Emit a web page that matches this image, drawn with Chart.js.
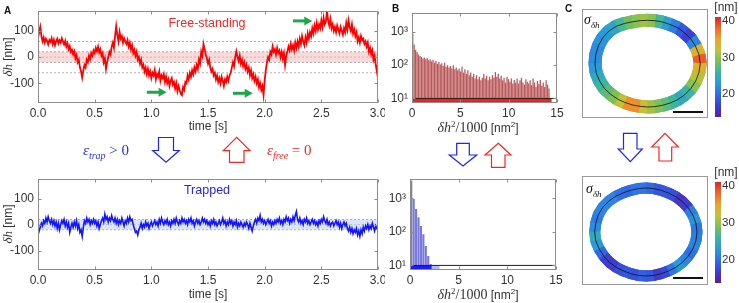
<!DOCTYPE html>
<html><head><meta charset="utf-8">
<script src="https://cdn.jsdelivr.net/npm/chart.js@4.4.1/dist/chart.umd.min.js"></script>
<style>
body{margin:0;background:#fff;}
#wrap{position:relative;width:739px;height:303px;overflow:hidden;font-family:'Liberation Sans',Arial,sans-serif;color:#333;}
canvas{position:absolute;}
.t{position:absolute;white-space:nowrap;line-height:1;}
.c{transform:translate(-50%,-50%);}
.m{font-family:'Liberation Serif','DejaVu Serif',serif;font-style:italic;}
.s{font-family:'Liberation Serif','DejaVu Serif',serif;}
</style></head><body><div id="wrap">
<canvas id="a1" width="385" height="135" style="left:0;top:0"></canvas>
<canvas id="a2" width="385" height="135" style="left:0;top:168px"></canvas>
<canvas id="b1" width="190" height="135" style="left:380px;top:0"></canvas>
<canvas id="b2" width="190" height="135" style="left:380px;top:168px"></canvas>
<canvas id="c1" width="126" height="109" style="left:582px;top:9px"></canvas>
<canvas id="c2" width="126" height="109" style="left:582px;top:176px"></canvas>
<canvas id="cb1" width="27" height="125" style="left:712px;top:0"></canvas>
<canvas id="cb2" width="27" height="125" style="left:712px;top:168px"></canvas>

<div class="t" style="left:4px;top:5px;font:bold 10px 'Liberation Sans';color:#111">A</div>
<div class="t" style="left:392px;top:3px;font:bold 10px 'Liberation Sans';color:#111">B</div>
<div class="t" style="left:565px;top:3px;font:bold 10px 'Liberation Sans';color:#111">C</div>

<div class="t c" style="left:207px;top:23px;font-size:12.5px;color:#ff2020">Free-standing</div>
<div class="t c" style="left:207px;top:189.5px;font-size:12.5px;color:#2222ff">Trapped</div>

<div class="t" style="left:7px;top:57px;font-size:12px;transform:translate(-50%,-50%) rotate(-90deg)"><span class="m" style="font-size:13px">δh</span> [nm]</div>
<div class="t" style="left:7px;top:224px;font-size:12px;transform:translate(-50%,-50%) rotate(-90deg)"><span class="m" style="font-size:13px">δh</span> [nm]</div>

<div class="t c" style="left:478px;top:127px;font-size:12px"><span class="m" style="font-size:14px">δh</span><sup class="s" style="font-size:9px">2</sup><span class="s" style="font-size:14px">/1000</span> [nm<sup style="font-size:8px">2</sup>]</div>
<div class="t c" style="left:478px;top:294px;font-size:12px"><span class="m" style="font-size:14px">δh</span><sup class="s" style="font-size:9px">2</sup><span class="s" style="font-size:14px">/1000</span> [nm<sup style="font-size:8px">2</sup>]</div>

<div class="t" style="left:83px;top:142px;color:#2a2aff;font-size:15px"><span class="m">ε</span><sub class="m" style="font-size:10px">trap</sub><span class="s"> &gt; 0</span></div>
<div class="t" style="left:267px;top:142px;color:#ff2424;font-size:15px"><span class="m">ε</span><sub class="m" style="font-size:10px">free</sub><span class="s"> = 0</span></div>

<div class="t" style="left:584px;top:12px;color:#111;font-size:14px"><span class="m">σ</span><sub class="m" style="font-size:9px">δh</sub></div>
<div class="t" style="left:586px;top:181px;color:#111;font-size:14px"><span class="m">σ</span><sub class="m" style="font-size:9px">δh</sub></div>
<div style="position:absolute;left:673px;top:111px;width:30px;height:2px;background:#111"></div>
<div style="position:absolute;left:673px;top:277px;width:30px;height:2px;background:#111"></div>

<div class="t c" style="left:726px;top:7px;font-size:12px">[nm]</div>
<div class="t c" style="left:726px;top:172px;font-size:12px">[nm]</div>

<svg width="739" height="303" style="position:absolute;left:0;top:0;pointer-events:none">
 <g fill="#fff" stroke-width="1.2">
  <polygon stroke="#2020ff" points="158.5,137.5 173.5,137.5 173.5,150.5 179.3,150.5 166,162.3 152.7,150.5 158.5,150.5"/>
  <polygon stroke="#ff2020" points="236.7,137.3 250,150.7 244,150.7 244,162.3 229.5,162.3 229.5,150.7 223.3,150.7"/>
  <polygon stroke="#2020ff" points="456.7,143.3 469.3,143.3 469.3,155 476.7,155 463,166 449.3,155 456.7,155"/>
  <polygon stroke="#ff2020" points="498.3,143.3 511,155 505,155 505,167.3 491.5,167.3 491.5,155 485,155"/>
  <polygon stroke="#2020ff" points="623.5,133.3 637,133.3 637,149 642.3,149 630.3,161.7 618.3,149 623.5,149"/>
  <polygon stroke="#ff2020" points="665,133.3 678.3,147 671.7,147 671.7,161 659,161 659,147 651.7,147"/>
 </g>
</svg>
</div>
<script>
// ---- panel A: height traces, sampled every DT seconds
const DT = 0.01;
const T_MAX = 3;
const freeTrace = [
 70,95,115,80,60,75,55,70,62,48,
 65,58,72,50,66,45,60,70,52,64,
 55,72,60,48,62,40,52,30,42,20,
 28,10,22,-5,8,-20,-10,-40,-55,-78,
 -50,-30,-40,-10,-20,5,-8,15,5,25,
 15,35,22,40,18,30,5,15,-20,-5,
 -45,-20,0,20,10,40,55,35,80,118,
 85,60,95,70,80,55,72,60,50,65,
 40,55,30,45,15,28,5,20,-10,0,
 -25,-10,-40,-30,-55,-40,-65,-45,-70,-55,
 -80,-60,-70,-50,-85,-65,-75,-55,-90,-70,
 -80,-65,-95,-75,-100,-85,-110,-90,-80,-105,
 -95,-120,-100,-130,-110,-125,-140,-145,-115,-125,
 -95,-100,-70,-85,-60,-75,-50,-65,-40,-55,
 -30,-45,-10,-25,20,5,50,30,10,-5,
 -25,-10,-40,-55,-45,-70,-60,-85,-70,-95,
 -80,-100,-75,-90,-110,-85,-95,-75,-90,-70,
 -60,-40,-20,-35,0,22,0,-15,5,-25,
 -10,-35,-20,-45,-30,-55,-40,-70,-50,-80,
 -65,-90,-75,-100,-85,-115,-100,-125,-110,-145,
 -90,-50,-20,0,-10,20,10,40,20,30,
 10,35,15,25,0,20,-5,15,-30,5,
 20,40,25,50,30,45,25,55,35,60,
 40,70,50,80,60,45,75,55,90,70,
 95,80,110,90,120,100,130,105,125,110,
 140,115,150,125,135,175,140,120,145,110,
 125,100,115,95,120,105,90,115,100,85,
 110,95,130,105,140,115,100,125,90,105,
 80,95,60,75,55,80,65,70,50,60,
 40,55,20,35,10,25,-10,5,-30,-55,
 -20];
const trapTrace = [
 -40,-25,-10,5,-5,15,5,25,10,30,
 15,5,20,0,15,-5,10,-15,5,-20,
 0,15,5,20,-5,10,-10,5,-30,-10,
 5,-10,10,-5,15,-15,0,-30,-20,-45,
 -10,15,5,25,10,20,0,15,5,20,
 5,15,-5,10,-15,0,15,25,10,40,
 20,30,10,25,15,35,20,10,25,5,
 20,0,15,5,25,10,-5,15,5,25,
 10,30,15,20,0,-15,-30,-25,-40,-20,
 -10,5,-15,0,-10,10,-5,5,-15,0,
 10,-5,5,15,0,10,-5,20,5,25,
 10,0,15,5,20,0,10,-5,15,5,
 20,5,25,10,0,15,5,25,10,20,
 5,15,0,20,10,25,5,15,-5,10,
 20,5,15,0,10,25,10,20,5,15,
 0,10,-5,15,5,20,0,10,-5,5,
 15,0,10,25,5,15,-5,10,0,20,
 5,15,-5,10,0,15,-10,5,-5,10,
 0,-10,5,-5,10,0,-15,5,-10,-25,
 -5,10,20,5,25,15,35,10,20,5,
 15,0,10,20,5,15,-5,10,0,15,
 5,20,10,25,5,15,0,20,10,30,
 15,25,5,20,10,30,15,35,50,20,
 10,25,5,15,0,20,10,25,5,15,
 0,10,20,5,15,0,10,-5,15,5,
 20,10,30,15,5,20,0,10,-5,5,
 10,-5,5,15,0,10,-10,5,-15,0,
 10,-5,5,-15,-25,-10,-30,-15,-35,-20,
 -30,-15,-40,-25,-45,-20,-35,-10,-25,-5,
 -15,0,-20,-5,-15,5,-10,-25,-5,-15,
 -10];
const TRAP_SIGMA = 20;
const FREE_SIGMA = 60;
const timeTicks = [0, 0.5, 1, 1.5, 2, 2.5, 3];
// green arrows (time start, time end, height)
const arrowStart = [0.96, 1.72, 2.25];
const arrowEnd = [1.135, 1.895, 2.42];
const arrowLevel = [-134, -138, 138];

// ---- panel B: histograms of dh^2/1000
const HIST_TOP_BIN = 0.15;
const histTop = [
 900,420,290,250,210,190,175,160,170,150,
 165,140,150,130,145,120,135,110,125,105,
 115,95,120,90,100,85,95,80,100,75,
 85,70,80,65,90,60,75,55,70,50,
 60,45,55,40,50,38,45,35,42,55,
 40,48,35,45,38,50,42,62,45,55,
 40,48,35,42,30,45,38,32,40,28,
 36,30,40,28,35,42,30,26,38,32,
 28,35,25,40,30,22,33,27,36,24,
 30,22,35,26,20];
const rugTopEnd = 14.4;
const HIST_BOTTOM_BIN = 0.25;
const histBottom = [3400, 950, 480, 270, 150, 85, 38, 19, 11];
const rugBottomEnd = 3.0;
const logTicks = [10, 100, 1000];
const RUG_LEVEL = 10;

// ---- panel C: contour sigma maps, every 10 degrees
const ringAngles = [0,10,20,30,40,50,60,70,80,90,100,110,120,130,140,150,160,170,180,190,200,210,220,230,240,250,260,270,280,290,300,310,320,330,340,350];
const ringTopRadius = [8.8,8.7,8.5,8.3,8.0,7.8,7.5,7.35,7.25,7.2,7.25,7.4,7.7,8.1,8.4,8.6,8.7,8.75,8.75,8.7,8.5,8.3,8.0,7.75,7.5,7.35,7.25,7.25,7.3,7.4,7.6,7.85,8.1,8.35,8.55,8.7];
const ringTopSigma = [36,41,26,17,17,20,22,25,28,31,30,29,28,25,23,23,22,22,22,24,25,27,28,30,34,38,34,31,30,28,27,25,24,28,31,32];
const ringBottomRadius = [8.5,8.45,8.3,8.1,7.9,7.7,7.5,7.4,7.35,7.33,7.35,7.4,7.55,7.8,8.05,8.3,8.45,8.5,8.55,8.5,8.3,8.1,7.9,7.7,7.5,7.4,7.35,7.33,7.35,7.4,7.5,7.7,7.9,8.1,8.3,8.45];
const ringBottomSigma = [20,21,24,18,15,17,19,18,19,20,21,20,19,21,22,21,22,20,24,25,21,18,16,17,19,18,18,20,17,16,19,22,24,19,21,22];
const CB_MIN = 13.8, CB_MAX = 41;
const cmapStops = [[13.8,'#5b1e9c'],[17,'#3b3fd6'],[20,'#2f6fe6'],[23,'#2a9bd8'],[26,'#3ab5a0'],[29,'#7cc056'],[32,'#c2c236'],[35,'#e9a52e'],[38,'#f0672c'],[41,'#d62628']];

Chart.defaults.font.family = "'Liberation Sans', Arial, sans-serif";
Chart.defaults.font.size = 12;
Chart.defaults.color = '#333';

function hexRgb(h) { return [1, 3, 5].map(i => parseInt(h.substr(i, 2), 16)); }
function sigmaColor(v) {
  v = Math.max(CB_MIN, Math.min(CB_MAX, v));
  for (let i = 1; i < cmapStops.length; i++) {
    if (v <= cmapStops[i][0]) {
      const [v0, c0] = cmapStops[i - 1], [v1, c1] = cmapStops[i];
      const f = (v - v0) / (v1 - v0), a = hexRgb(c0), b = hexRgb(c1);
      return 'rgb(' + a.map((x, k) => Math.round(x + (b[k] - x) * f)).join(',') + ')';
    }
  }
  return cmapStops[cmapStops.length - 1][1];
}

// box round the plot area with small inner ticks
const framePlugin = {
  id: 'frame',
  afterDatasetsDraw(chart, args, opts) {
    if (!opts || !opts.color) return;
    const {ctx, chartArea: a} = chart;
    ctx.save();
    ctx.strokeStyle = opts.color;
    ctx.lineWidth = 1;
    const l = Math.round(a.left) + 0.5, t = Math.round(a.top) + 0.5, r = Math.round(a.right) - 0.5, b = Math.round(a.bottom) - 0.5;
    ctx.strokeRect(l, t, r - l, b - t);
    const len = opts.tick || 0;
    if (len) {
      ctx.beginPath();
      const xs = chart.scales.x, ys = chart.scales.y;
      xs.ticks.forEach(tk => {
        const p = Math.round(xs.getPixelForValue(tk.value)) + 0.5;
        ctx.moveTo(p, b); ctx.lineTo(p, b - len); ctx.moveTo(p, t); ctx.lineTo(p, t + len);
      });
      ys.ticks.forEach(tk => {
        const p = Math.round(ys.getPixelForValue(tk.value)) + 0.5;
        ctx.moveTo(l, p); ctx.lineTo(l + len, p); ctx.moveTo(r, p); ctx.lineTo(r - len, p);
      });
      ctx.stroke();
    }
    ctx.restore();
  }
};
Chart.register(framePlugin);

const greenArrows = {
  id: 'greenArrows',
  afterDatasetsDraw(chart) {
    const {ctx, scales: {x, y}} = chart;
    ctx.save();
    ctx.strokeStyle = ctx.fillStyle = '#1fa64a';
    ctx.lineWidth = 3;
    arrowStart.forEach((t0, i) => {
      const x0 = x.getPixelForValue(t0), x1 = x.getPixelForValue(arrowEnd[i]), py = y.getPixelForValue(arrowLevel[i]);
      ctx.beginPath(); ctx.moveTo(x0, py); ctx.lineTo(x1 - 6, py); ctx.stroke();
      ctx.beginPath(); ctx.moveTo(x1, py); ctx.lineTo(x1 - 8, py - 4.5); ctx.lineTo(x1 - 8, py + 4.5); ctx.closePath(); ctx.fill();
    });
    ctx.restore();
  }
};

function traceChart(id, trace, color, lineW, bandFill, showFree, padTop, xHeight, extra) {
  const hline = v => [{x: 0, y: v}, {x: T_MAX, y: v}];
  const dash = {borderColor: '#9a9a9a', borderWidth: 0.8, borderDash: [2, 2], pointRadius: 0};
  const datasets = [
    {data: trace.map((v, i) => ({x: i * DT, y: v})), borderColor: color, borderWidth: lineW, pointRadius: 0},
    Object.assign({data: hline(TRAP_SIGMA), fill: '+1', backgroundColor: bandFill}, dash),
    Object.assign({data: hline(-TRAP_SIGMA)}, dash),
    Object.assign({data: hline(0)}, dash, {borderColor: '#b8b8b8'})
  ];
  if (showFree) {
    datasets.push(Object.assign({data: hline(FREE_SIGMA)}, dash));
    datasets.push(Object.assign({data: hline(-FREE_SIGMA)}, dash));
  }
  return new Chart(document.getElementById(id), {
    type: 'line',
    data: {datasets},
    plugins: extra ? [extra] : [],
    options: {
      responsive: false, animation: false,
      layout: {padding: {top: padTop, right: 7, left: 0, bottom: 0}},
      plugins: {legend: {display: false}, tooltip: {enabled: false}, frame: {color: '#8c8c8c', tick: 3}},
      elements: {line: {tension: 0}},
      scales: {
        x: {type: 'linear', min: 0, max: T_MAX,
            afterBuildTicks: s => { s.ticks = timeTicks.map(v => ({value: v})); },
            grid: {display: false, drawTicks: false}, border: {display: false},
            ticks: {padding: 3, callback: v => v.toFixed(1)},
            title: {display: true, text: 'time [s]', padding: {top: 0, bottom: 1}},
            afterFit: s => { s.height = xHeight; s.paddingLeft = 0; s.paddingRight = 0; }},
        y: {min: -175, max: 175, grid: {display: false, drawTicks: false}, border: {display: false},
            ticks: {stepSize: 100, includeBounds: false, padding: 4},
            afterFit: s => { s.width = 38; }}
      }
    }
  });
}

traceChart('a1', freeTrace, '#ff0000', 1.8, 'rgba(236,140,140,0.32)', true, 10, 32, greenArrows);
traceChart('a2', trapTrace, '#1414ff', 1.6, 'rgba(160,190,228,0.38)', false, 10, 33);

const sup = {1: '\u00b9', 2: '\u00b2', 3: '\u00b3'};
function histChart(id, hist, bw, rugEnd, barColor, rugColor, rugLight, yWidth, padTop, padRight, xHeight) {
  const nRug = Math.round(rugEnd / bw);
  const rug = [];
  for (let i = 0; i < nRug; i++) rug.push({x: (i + 0.5) * bw, y: [6, RUG_LEVEL]});
  return new Chart(document.getElementById(id), {
    type: 'bar',
    data: {datasets: [
      {type: 'line', data: [{x: 0, y: RUG_LEVEL}, {x: 15, y: RUG_LEVEL}], borderColor: '#222', borderWidth: 1, pointRadius: 0},
      {data: rug, grouped: false, barPercentage: 1, categoryPercentage: 1,
       backgroundColor: c => c.dataIndex < hist.length || !rugLight ? rugColor : rugLight},
      {data: hist.map((v, i) => ({x: (i + 0.5) * bw, y: v})), grouped: false, barPercentage: 0.88, categoryPercentage: 1,
       backgroundColor: barColor}
    ]},
    options: {
      responsive: false, animation: false,
      layout: {padding: {top: padTop, right: padRight, left: 0, bottom: 0}},
      plugins: {legend: {display: false}, tooltip: {enabled: false}, frame: {color: '#8c8c8c', tick: 3}},
      scales: {
        x: {type: 'linear', min: 0, max: 15, offset: false,
            grid: {display: false, drawTicks: false, offset: false}, border: {display: false},
            ticks: {stepSize: 5, padding: 3},
            afterFit: s => { s.height = xHeight; s.paddingLeft = 0; s.paddingRight = 0; }},
        y: {type: 'logarithmic', min: 7.3, max: 3700,
            afterBuildTicks: s => { s.ticks = logTicks.map(v => ({value: v})); },
            grid: {display: false, drawTicks: false}, border: {display: false},
            ticks: {padding: 4, callback: v => '10' + sup[Math.round(Math.log10(v))]},
            afterFit: s => { s.width = yWidth; }}
      }
    }
  });
}

histChart('b1', histTop, HIST_TOP_BIN, rugTopEnd, 'rgba(176,66,66,0.88)', '#ff1a1a', null, 32, 13, 13, 32);
histChart('b2', histBottom, HIST_BOTTOM_BIN, rugBottomEnd, 'rgba(92,92,214,0.82)', '#1a1aff', '#b4b4ff', 30, 10, 14, 33);

function ringChart(id, radius, sigma, width, cx, cy) {
  const PX = 6, W = 126, H = 109;
  const pts = ringAngles.map((a, i) => ({x: radius[i] * Math.cos(a * Math.PI / 180), y: radius[i] * Math.sin(a * Math.PI / 180)}));
  pts.push(pts[0]);
  const n = sigma.length;
  const seg = {borderColor: c => sigmaColor((sigma[c.p0DataIndex % n] + sigma[c.p1DataIndex % n]) / 2)};
  return new Chart(document.getElementById(id), {
    type: 'scatter',
    data: {datasets: [
      {data: pts, showLine: true, borderColor: '#111', borderWidth: 0.8, pointRadius: 0},
      {data: pts, showLine: true, borderColor: '#888', borderWidth: width, borderCapStyle: 'butt', pointRadius: 0, segment: seg},
      {data: pts, showLine: true, borderColor: '#888', borderWidth: width, borderCapStyle: 'round', pointRadius: 0, segment: seg}
    ]},
    options: {
      responsive: false, animation: false,
      layout: {padding: 0},
      plugins: {legend: {display: false}, tooltip: {enabled: false}, frame: {color: '#9a9a9a'}},
      scales: {
        x: {display: false, min: -cx / PX, max: (W - cx) / PX},
        y: {display: false, min: -(H - cy) / PX, max: cy / PX}
      }
    }
  });
}

ringChart('c1', ringTopRadius, ringTopSigma, 13, 65.5, 54.5);
ringChart('c2', ringBottomRadius, ringBottomSigma, 11, 64, 56);

function colorbar(id, padTop, padBottom) {
  return new Chart(document.getElementById(id), {
    type: 'bar',
    data: {labels: [''], datasets: [{data: [[CB_MIN, CB_MAX]], barPercentage: 1, categoryPercentage: 1,
      backgroundColor: c => {
        const a = c.chart.chartArea;
        if (!a) return '#888';
        const g = c.chart.ctx.createLinearGradient(0, a.bottom, 0, a.top);
        cmapStops.forEach(([v, col]) => g.addColorStop((v - CB_MIN) / (CB_MAX - CB_MIN), col));
        return g;
      }}]},
    options: {
      responsive: false, animation: false,
      layout: {padding: {left: 3, top: padTop, bottom: padBottom, right: 0}},
      plugins: {legend: {display: false}, tooltip: {enabled: false}},
      scales: {
        x: {display: false},
        y: {position: 'right', min: CB_MIN, max: CB_MAX,
            grid: {display: false, drawTicks: false}, border: {display: false},
            ticks: {stepSize: 10, includeBounds: false, padding: 1, font: {size: 11.5}},
            afterFit: s => { s.width = 18; }}
      }
    }
  });
}
colorbar('cb1', 17, 8);
colorbar('cb2', 14, 10);
</script>
</body></html>
